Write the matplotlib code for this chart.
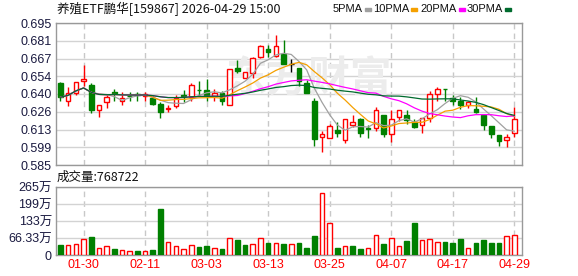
import numpy as np
import pandas as pd
import matplotlib
matplotlib.use('Agg')
import matplotlib.pyplot as plt
from matplotlib.patches import Rectangle

plt.rcParams['font.family'] = ['Liberation Sans', 'Noto Sans CJK SC']

dates = ['01-27', '01-28', '01-29', '01-30',
         '02-02', '02-03', '02-04', '02-05', '02-06', '02-09', '02-10', '02-11', '02-12', '02-13',
         '02-24', '02-25', '02-26', '02-27',
         '03-02', '03-03', '03-04', '03-05', '03-06', '03-09', '03-10', '03-11', '03-12', '03-13',
         '03-16', '03-17', '03-18', '03-19', '03-20', '03-23', '03-24', '03-25', '03-26', '03-27',
         '03-30', '03-31',
         '04-01', '04-02', '04-03', '04-07', '04-08', '04-09', '04-10', '04-13', '04-14', '04-15',
         '04-16', '04-17', '04-20', '04-21', '04-22', '04-23', '04-24', '04-27', '04-28', '04-29']

opens = [0.6487, 0.6347, 0.6410, 0.6497, 0.6471, 0.6278, 0.6339, 0.6415, 0.6347, 0.6387,
         0.6397, 0.6385, 0.6370, 0.6319, 0.6283, 0.6308, 0.6390, 0.6380, 0.6433, 0.6430,
         0.6382, 0.6405, 0.6313, 0.6601, 0.6522, 0.6566, 0.6690, 0.6751, 0.6695, 0.6713,
         0.6634, 0.6599, 0.6487, 0.6349, 0.6069, 0.6056, 0.6120, 0.6044, 0.6161, 0.6207,
         0.6133, 0.6133, 0.6235, 0.6087, 0.6222, 0.6235, 0.6186, 0.6156, 0.6217, 0.6400,
         0.6441, 0.6370, 0.6349, 0.6313, 0.6283, 0.6235, 0.6151, 0.6082, 0.6041, 0.6100]
highs = [0.6490, 0.6456, 0.6492, 0.6624, 0.6487, 0.6316, 0.6395, 0.6441, 0.6413, 0.6413,
         0.6413, 0.6413, 0.6382, 0.6341, 0.6311, 0.6395, 0.6433, 0.6487, 0.6502, 0.6517,
         0.6436, 0.6425, 0.6591, 0.6660, 0.6571, 0.6685, 0.6777, 0.6777, 0.6858, 0.6815,
         0.6672, 0.6599, 0.6512, 0.6370, 0.6115, 0.6171, 0.6186, 0.6209, 0.6240, 0.6214,
         0.6156, 0.6303, 0.6235, 0.6278, 0.6278, 0.6273, 0.6207, 0.6214, 0.6425, 0.6456,
         0.6441, 0.6395, 0.6375, 0.6344, 0.6380, 0.6240, 0.6151, 0.6082, 0.6089, 0.6303]
lows = [0.6344, 0.6306, 0.6395, 0.6459, 0.6252, 0.6222, 0.6291, 0.6344, 0.6316, 0.6349,
        0.6344, 0.6349, 0.6311, 0.6214, 0.6260, 0.6293, 0.6336, 0.6349, 0.6382, 0.6349,
        0.6349, 0.6313, 0.6313, 0.6566, 0.6522, 0.6522, 0.6680, 0.6690, 0.6690, 0.6629,
        0.6573, 0.6464, 0.6405, 0.5998, 0.5947, 0.6056, 0.6069, 0.6023, 0.6145, 0.6069,
        0.6056, 0.6115, 0.6064, 0.6031, 0.6191, 0.6166, 0.6138, 0.6100, 0.6181, 0.6344,
        0.6349, 0.6311, 0.6285, 0.6293, 0.6252, 0.6120, 0.6056, 0.6000, 0.5993, 0.6069]
closes = [0.6375, 0.6405, 0.6492, 0.6515, 0.6278, 0.6316, 0.6380, 0.6408, 0.6370, 0.6382,
          0.6392, 0.6398, 0.6324, 0.6263, 0.6288, 0.6370, 0.6387, 0.6471, 0.6428, 0.6390,
          0.6410, 0.6344, 0.6591, 0.6581, 0.6571, 0.6678, 0.6769, 0.6726, 0.6769, 0.6634,
          0.6634, 0.6497, 0.6405, 0.6054, 0.6087, 0.6151, 0.6100, 0.6204, 0.6186, 0.6100,
          0.6128, 0.6273, 0.6087, 0.6204, 0.6278, 0.6196, 0.6145, 0.6214, 0.6400, 0.6438,
          0.6436, 0.6347, 0.6313, 0.6339, 0.6258, 0.6161, 0.6089, 0.6039, 0.6064, 0.6209]

# volume in units of 万
volumes = [37.5, 37.5, 41, 64, 71, 29, 36, 25, 21, 14,
           16, 14, 19, 180, 51, 34, 25, 40, 30, 34,
           26, 22.5, 66, 60, 37.5, 41, 66, 45, 45, 41,
           41, 45, 26, 75, 240, 124, 26, 34, 34, 22.5,
           29, 79, 41, 66, 34, 56, 124, 59, 62.5, 52.5,
           49, 45, 64, 26, 45, 60, 45, 45, 75, 76.8722]
vol_up = [0, 1, 1, 1, 0, 1, 1, 0, 1, 1,
          0, 1, 0, 0, 1, 1, 1, 1, 0, 0,
          1, 0, 1, 0, 0, 1, 1, 0, 1, 0,
          1, 0, 0, 0, 1, 1, 0, 1, 0, 0,
          1, 1, 0, 1, 1, 0, 0, 1, 1, 1,
          0, 0, 0, 1, 0, 0, 0, 0, 1, 1]

tick_dates = ['01-30', '02-11', '03-03', '03-13', '03-25', '04-07', '04-17', '04-29']
price_ticks = [0.585, 0.59875, 0.6125, 0.62625, 0.640, 0.65375, 0.6675, 0.68125, 0.695]
price_labels = ['0.585', '0.599', '0.613', '0.626', '0.640', '0.654', '0.667', '0.681', '0.695']
vol_ticks = [0, 66.33, 132.66, 198.99, 265.32]
vol_labels = ['0', '66.33万', '133万', '199万', '265万']
ma_periods = [5, 10, 20, 30]
ma_names = ['5PMA', '10PMA', '20PMA', '30PMA']
ma_colors = ['#a0a0a0', '#f5a000', '#ff00ff', '#006b2e']

RED = '#ff0000'
GREEN = '#008000'
GRID = '#d3d3d3'

x = np.arange(len(dates))
o = np.array(opens); h = np.array(highs); l = np.array(lows); c = np.array(closes)
up = c > o
down = c < o
flat = c == o

W, H = 578, 276
fig = plt.figure(figsize=(W / 100, H / 100), dpi=100)
ax = fig.add_axes([56 / W, 1 - 165 / H, 466 / W, 142 / H])
axv = fig.add_axes([56 / W, 1 - 255 / H, 466 / W, 68 / H])

tick_idx = [dates.index(d) for d in tick_dates]

for a in (ax, axv):
    a.set_xlim(-0.585, 60.0)
    a.set_xticks(tick_idx)
    a.set_axisbelow(True)
    a.grid(axis='y', color=GRID, lw=1, ls='-')
    a.grid(axis='x', color='#c8c8c8', lw=1, ls=(0, (4, 3)))
    a.tick_params(length=0, pad=3, labelsize=9)
    for s in a.spines.values():
        s.set_color('#999999')
        s.set_linewidth(1)

# watermark
ax.text(21.5, 0.652, '东方财富', fontsize=30, color='#ececec', style='italic',
        fontweight='bold', family='Noto Sans CJK SC', va='center', ha='left', zorder=0.6)

# candles
ax.vlines(x[up], l[up], h[up], color=RED, lw=1, zorder=2)
ax.vlines(x[down], l[down], h[down], color=GREEN, lw=1, zorder=2)
ax.vlines(x[flat], l[flat], h[flat], color='black', lw=1, zorder=2)
ax.bar(x[up], (c - o)[up], bottom=o[up], width=0.6, facecolor='white',
       edgecolor=RED, lw=1, zorder=3)
ax.bar(x[down], (o - c)[down], bottom=c[down], width=0.6, facecolor=GREEN,
       edgecolor=GREEN, lw=1, zorder=3)
ax.hlines(c[flat], x[flat] - 0.3, x[flat] + 0.3, color='black', lw=1, zorder=3)

# moving averages
s = pd.Series(closes)
for n, col in zip(ma_periods, ma_colors):
    ax.plot(x, s.rolling(n, min_periods=1).mean(), color=col, lw=0.9, zorder=4)

ax.set_ylim(0.585, 0.695)
ax.set_yticks(price_ticks)
ax.set_yticklabels(price_labels, color='#1a1a40')
ax.set_xticklabels([])

# volume
vu = np.array(vol_up, dtype=bool)
v = np.array(volumes)
axv.bar(x[vu], v[vu], width=0.6, facecolor='white', edgecolor=RED, lw=1, zorder=3)
axv.bar(x[~vu], v[~vu], width=0.6, facecolor=GREEN, edgecolor=GREEN, lw=1, zorder=3)
axv.set_ylim(0, 265.32)
axv.set_yticks(vol_ticks)
axv.set_yticklabels(vol_labels, color='#1a1a40')
axv.set_xticklabels(tick_dates, color=RED)

# header texts
fig.text(57 / W, 1 - 9 / H, '养殖ETF鹏华[159867] 2026-04-29 15:00', fontsize=9,
         family='Noto Sans CJK SC', va='center', ha='left', color='#111111')
fig.text(57 / W, 1 - 177 / H, '成交量:%d' % round(volumes[-1] * 10000), fontsize=9,
         family='Noto Sans CJK SC', va='center', ha='left', color='#111111')

# legend: label then a small colour swatch
swatch_x = [365, 411, 459, 505]
for sx, name, col in zip(swatch_x, ma_names, ma_colors):
    fig.text((sx - 2) / W, 1 - 9 / H, name, fontsize=8, va='center', ha='right', color='#111111')
    fig.add_artist(Rectangle((sx / W, (H - 11) / H), 6 / W, 3 / H,
                             transform=fig.transFigure, color=col))

fig.savefig('out.png', dpi=100)
